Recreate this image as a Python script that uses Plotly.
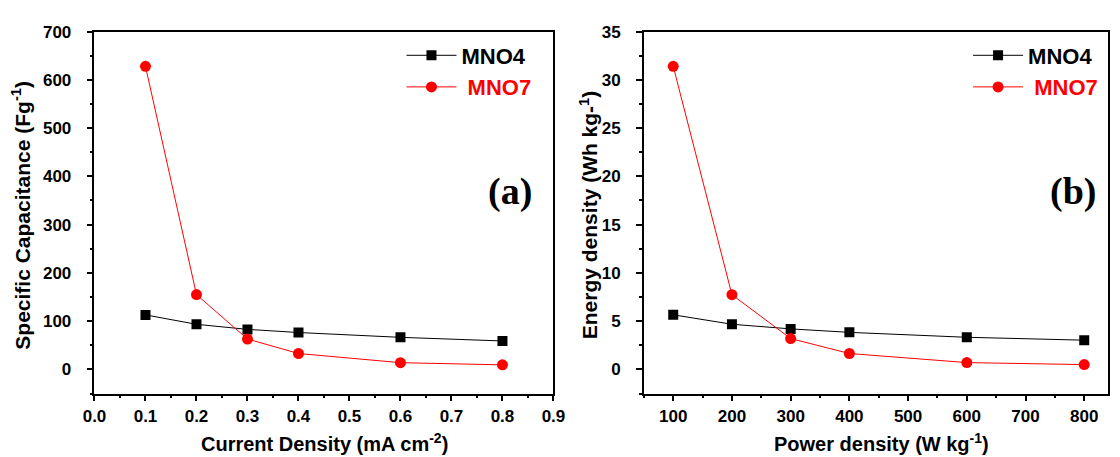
import plotly.graph_objects as go

# ---- data ----
cd = [0.1, 0.2, 0.3, 0.4, 0.6, 0.8]
cap_mno4 = [113, 93.5, 83, 76.5, 66.5, 59]
cap_mno7 = [628, 155, 63, 33, 14, 9.5]

pd_ = [100, 200, 300, 400, 600, 800]
ed_mno4 = [5.66, 4.68, 4.2, 3.84, 3.33, 3.03]
ed_mno7 = [31.4, 7.74, 3.2, 1.65, 0.71, 0.5]

W, H = 1120, 457
SANS = "Liberation Sans, Arial, sans-serif"
SERIF = "Liberation Serif, Times New Roman, serif"

def px(x):
    return x / W

def py(y):
    return 1 - y / H

fig = go.Figure()

mk4 = dict(symbol="square", size=10, color="black")
mk7 = dict(symbol="circle", size=11, color="#ff0000")

fig.add_trace(go.Scatter(x=cd, y=cap_mno4, mode="lines+markers", name="MNO4",
                         line=dict(color="black", width=1), marker=mk4,
                         xaxis="x", yaxis="y", legend="legend"))
fig.add_trace(go.Scatter(x=cd, y=cap_mno7, mode="lines+markers",
                         name="<span style='color:#ff0000'>&nbsp;MNO7</span>",
                         line=dict(color="#ff0000", width=1), marker=mk7,
                         xaxis="x", yaxis="y", legend="legend"))
fig.add_trace(go.Scatter(x=pd_, y=ed_mno4, mode="lines+markers", name="MNO4",
                         line=dict(color="black", width=1), marker=mk4,
                         xaxis="x2", yaxis="y2", legend="legend2"))
fig.add_trace(go.Scatter(x=pd_, y=ed_mno7, mode="lines+markers",
                         name="<span style='color:#ff0000'>&nbsp;MNO7</span>",
                         line=dict(color="#ff0000", width=1), marker=mk7,
                         xaxis="x2", yaxis="y2", legend="legend2"))

tickfont = dict(family=SANS, size=17, color="black", weight="bold")

def ax(**kw):
    base = dict(showline=True, linecolor="black", linewidth=1.5, mirror=True,
                ticks="outside", ticklen=6, tickwidth=1.5, tickcolor="black",
                showgrid=False, zeroline=False, tickfont=tickfont, fixedrange=True)
    base.update(kw)
    return base

minor_kw = dict(ticks="outside", ticklen=3, tickwidth=1.5, tickcolor="black")
ydom = [py(392.3), py(23)]
legfont = dict(family=SANS, size=22, color="black", weight="bold")
fig.update_layout(
    width=W, height=H,
    margin=dict(l=0, r=0, t=0, b=0),
    paper_bgcolor="white", plot_bgcolor="white",
    xaxis=ax(domain=[px(84.3), px(553.3)], range=[0, 0.9], dtick=0.1, tick0=0,
             tickformat=".1f", anchor="y",
             minor=dict(dtick=0.05, **minor_kw)),
    yaxis=ax(domain=ydom, range=[-50, 700], dtick=100, tick0=0, anchor="x",
             ticklabelstandoff=12,
             minor=dict(dtick=50, **minor_kw)),
    xaxis2=ax(domain=[px(645.7), 1.0], range=[50, 840.5], dtick=100, tick0=0, anchor="y2",
              minor=dict(dtick=50, **minor_kw)),
    yaxis2=ax(domain=ydom, range=[-2.5, 35], dtick=5, tick0=0, anchor="x2",
              ticklabelstandoff=12,
              minor=dict(dtick=2.5, **minor_kw)),
    legend=dict(x=px(398), y=py(26), xanchor="left", yanchor="top",
                font=legfont, bgcolor="rgba(0,0,0,0)", itemwidth=50, tracegroupgap=0),
    legend2=dict(x=px(977), y=py(26), xanchor="left", yanchor="top",
                 font=legfont, bgcolor="rgba(0,0,0,0)", itemwidth=50, tracegroupgap=0),
    showlegend=True,
)

ytitle_font = dict(family=SANS, size=21, color="black", weight="bold")
xtitle_font = dict(family=SANS, size=20, color="black", weight="bold")
ann = [
    dict(text="Specific Capacitance (Fg<sup>-1</sup>)", x=px(9), y=py(210), textangle=-90, font=ytitle_font),
    dict(text="Energy density (Wh kg-<sup>1</sup>)", x=px(589), y=py(210), textangle=-90, font=ytitle_font),
    dict(text="Current Density (mA cm<sup>-2</sup>)", x=px(319), y=py(442), font=xtitle_font),
    dict(text="Power density (W kg<sup>-1</sup>)", x=px(889), y=py(442), font=xtitle_font),
]
for a in ann:
    fig.add_annotation(xref="paper", yref="paper", showarrow=False,
                       xanchor="center", yanchor="middle", **a)

for lab, xc in (("(a)", 508.7), ("(b)", 1084)):
    fig.add_annotation(text=lab, xref="paper", yref="paper", x=px(xc), y=py(186),
                       showarrow=False, xanchor="center", yanchor="middle",
                       font=dict(family=SERIF, size=38, color="black", weight="bold"))

fig.write_html("out.html")
